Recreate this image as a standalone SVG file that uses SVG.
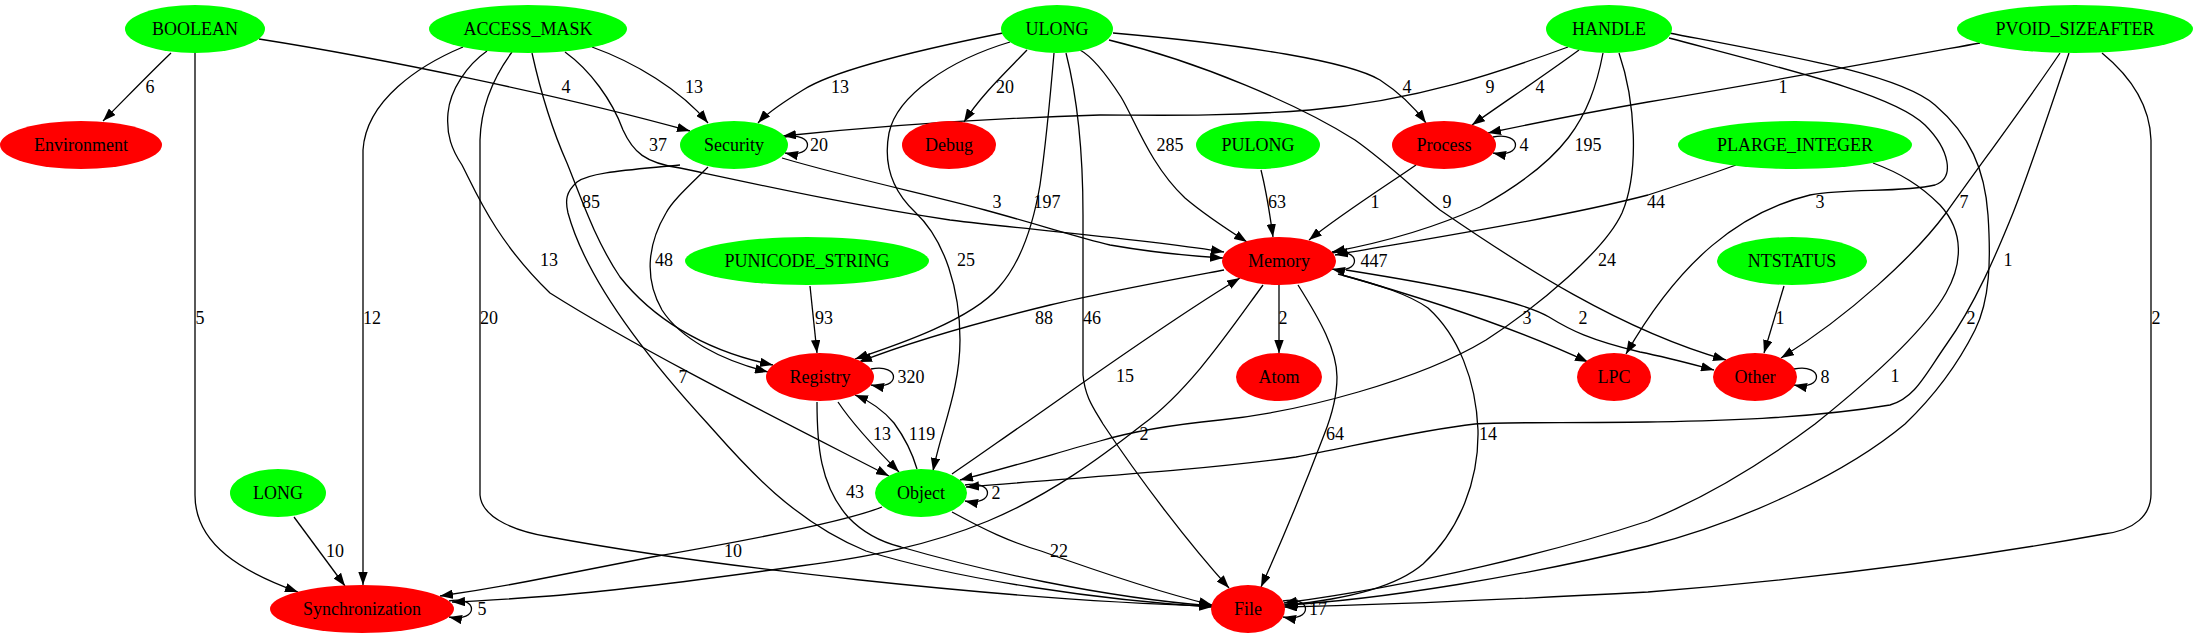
<svg xmlns="http://www.w3.org/2000/svg" width="2198" height="639" viewBox="0 0 2198 639">
<style>
.g{fill:#00ff00}
.r{fill:#ff0000}
text{font-family:"Liberation Serif","Times New Roman",serif;font-size:18px;fill:#000;text-anchor:middle}
.e path{fill:none;stroke:#000;stroke-width:1.3;marker-end:url(#ah)}
</style>
<defs>
<marker id="ah" viewBox="0 0 13 9.4" refX="13" refY="4.7" markerWidth="13" markerHeight="9.4" markerUnits="userSpaceOnUse" orient="auto"><path d="M0,0 L13,4.7 L0,9.4 z" fill="#000"/></marker>
</defs>
<rect width="2198" height="639" fill="#fff"/>
<g id="connectors" class="e">
<path d="M171,53 C147,76 126,98 103,121"/><text x="150" y="93">6</text>
<path d="M259,39 C380,58 560,95 690,131"/><text x="566" y="93">4</text>
<path d="M195,53 L195,495 C195,545 243,572 298,592"/><text x="200" y="324">5</text>
<path d="M592,47 C634,62 681,90 708,123"/><text x="694" y="93">13</text>
<path d="M565,52 C590,70 612,100 623,130 C633,152 645,163 680,168 C760,185 850,205 950,220 C1050,232 1150,240 1224,252"/><text x="658" y="151">37</text>
<path d="M532,53 C538,80 550,125 567,163 C580,195 595,240 620,277 C650,315 700,350 773,365"/><text x="591" y="208">85</text>
<path d="M487,51 C467,65 450,90 448,113 C446,135 452,150 462,165 C475,190 495,240 550,293 C640,350 780,420 889,476"/><text x="549" y="266">13</text>
<path d="M463,47 C420,65 366,100 363,150 L363,585"/><text x="372" y="324">12</text>
<path d="M512,52 C495,75 481,105 480,140 L480,495 C482,520 520,532 550,537 C700,565 1000,600 1212,606"/><text x="489" y="324">20</text>
<path d="M1003,33 C918,50 834,70 803,90 C782,103 766,114 758,123"/><text x="840" y="93">13</text>
<path d="M1027,50 C1008,70 981,95 964,122"/><text x="1005" y="93">20</text>
<path d="M1010,42 C950,60 897,95 889,133 C882,170 897,195 915,212 C945,240 960,290 960,340 C960,390 941,430 933,471"/><text x="966" y="266">25</text>
<path d="M1054,53 C1050,100 1045,150 1040,185 C1034,220 1023,260 999,287 C971,320 897,345 855,359"/><text x="1047" y="208">197</text>
<path d="M1066,53 C1078,100 1083,150 1083,215 L1083,375 C1085,398 1095,410 1103,424 C1140,480 1190,545 1229,588"/><text x="1092" y="324">46</text>
<path d="M1080,50 C1095,58 1110,80 1121,97 C1135,120 1150,165 1185,198 C1205,215 1225,228 1247,242"/><text x="1170" y="151">285</text>
<path d="M1113,33 C1250,45 1350,62 1380,80 C1400,93 1415,108 1426,123"/><text x="1407" y="93">4</text>
<path d="M1109,40 C1200,62 1300,105 1355,140 C1390,165 1415,190 1440,210 C1520,265 1620,330 1726,360"/><text x="1447" y="208">9</text>
<path d="M1568,47 C1500,72 1420,100 1310,110 C1220,117 1150,115 1100,115 C1000,118 880,126 783,136"/><text x="1490" y="93">9</text>
<path d="M1579,50 C1545,75 1500,105 1472,125"/><text x="1540" y="93">4</text>
<path d="M1603,53 C1590,120 1565,160 1480,207 C1430,230 1380,243 1332,252"/><text x="1588" y="151">195</text>
<path d="M1619,53 C1635,100 1640,170 1622,213 C1605,250 1540,305 1486,340 C1420,380 1300,412 1220,420 C1160,426 1120,435 1100,441 C1050,455 1000,470 960,480"/><text x="1607" y="266">24</text>
<path d="M1669,38 C1790,70 1895,95 1925,125 C1950,150 1955,178 1935,185 C1900,193 1850,188 1810,195 C1740,212 1680,260 1626,354"/><text x="1820" y="208">3</text>
<path d="M1669,33 C1800,58 1900,75 1935,105 C1970,135 1985,170 1988,215 C1991,260 1990,300 1975,330 C1955,370 1930,400 1905,424 C1850,470 1750,520 1648,546 C1530,575 1380,600 1284,605"/><text x="1971" y="324">2</text>
<path d="M1980,43 C1870,63 1750,85 1648,102 C1590,112 1540,122 1488,133"/><text x="1783" y="93">1</text>
<path d="M2060,53 C2025,105 1980,165 1946,213 C1915,255 1850,315 1781,358"/><text x="1964" y="208">7</text>
<path d="M2069,53 C2050,110 2030,170 2013,213 C1998,250 1975,305 1946,345 C1925,375 1915,398 1890,405 C1800,420 1700,421 1648,422 C1560,423 1500,422 1475,424 C1420,430 1350,447 1296,457 C1200,470 1100,476 966,487"/><text x="2008" y="266">1</text>
<path d="M2102,53 C2135,80 2150,110 2151,140 L2151,494 C2151,515 2135,530 2104,534 C1960,560 1800,580 1648,592 C1500,600 1380,605 1284,607"/><text x="2156" y="324">2</text>
<path d="M1736,165 C1700,178 1670,188 1648,195 C1560,218 1420,240 1335,255"/><text x="1656" y="208">44</text>
<path d="M1873,163 C1900,173 1920,185 1940,205 C1965,232 1962,265 1946,293 C1925,330 1870,380 1815,424 C1760,465 1700,500 1648,521 C1560,550 1420,585 1284,603"/><text x="1895" y="382">1</text>
<path d="M1261,170 C1266,190 1270,215 1273,237"/><text x="1277" y="208">63</text>
<path d="M1416,165 C1390,183 1340,215 1309,240"/><text x="1375" y="208">1</text>
<path d="M810,286 L817,353"/><text x="824" y="324">93</text>
<path d="M1784,286 L1764,353"/><text x="1780" y="324">1</text>
<path d="M294,517 L345,586"/><text x="335" y="557">10</text>
<path d="M782,158 C850,178 930,195 985,210 C1040,225 1080,238 1110,245 C1150,252 1190,256 1223,258"/><text x="997" y="208">3</text>
<path d="M708,167 C690,185 673,200 666,213 C650,240 642,275 662,310 C680,338 720,360 768,372"/><text x="664" y="266">48</text>
<path d="M680,165 C630,170 590,172 577,182 C566,192 565,200 568,213 C585,275 640,350 708,424 C740,460 790,520 866,551 C960,580 1100,600 1212,607"/><text x="683" y="383">7</text>
<path d="M1224,270 C1160,282 1100,293 1050,305 C980,322 910,342 859,362"/><text x="1044" y="324">88</text>
<path d="M1279,285 L1279,353"/><text x="1283" y="324">2</text>
<path d="M1342,275 C1430,300 1520,330 1588,362"/><text x="1527" y="324">3</text>
<path d="M1346,270 C1440,285 1520,300 1549,317 C1570,330 1590,340 1640,352 C1670,358 1695,365 1714,370"/><text x="1583" y="324">2</text>
<path d="M1298,285 C1320,320 1337,350 1337,377 C1337,400 1330,420 1324,435 C1305,485 1280,545 1261,587"/><text x="1335" y="440">64</text>
<path d="M1263,285 C1230,330 1190,390 1142,425 C1100,458 1050,495 988,521 C930,545 870,557 800,566 C700,580 600,592 550,596 C510,599 480,601 452,602"/><text x="1144" y="440">2</text>
<path d="M838,402 C850,420 875,448 899,472"/><text x="882" y="440">13</text>
<path d="M917,469 C912,452 905,438 894,423 C883,410 870,401 855,395"/><text x="922" y="440">119</text>
<path d="M817,402 C817,445 820,485 848,517 C865,535 885,543 901,547 C980,570 1100,597 1212,606"/><text x="855" y="498">43</text>
<path d="M952,474 C980,455 1005,437 1024,424 C1080,385 1170,320 1240,278"/><text x="1125" y="382">15</text>
<path d="M882,507 C850,520 750,540 652,557 C610,565 580,571 550,577 C510,585 475,591 440,596"/><text x="733" y="557">10</text>
<path d="M952,512 C985,530 1010,542 1041,551 C1080,565 1150,590 1212,605"/><text x="1059" y="557">22</text>
<path d="M1338,274 C1380,285 1410,295 1428,308 C1458,335 1476,380 1478,430 C1479,480 1460,530 1423,564 C1395,588 1340,600 1285,605"/><text x="1488" y="440">14</text>
<path d="M785,137 C815,131 815,159 785,153"/><text x="819" y="151">20</text>
<path d="M1493,137 C1523,131 1523,159 1493,153"/><text x="1524" y="151">4</text>
<path d="M1332,253 C1362,247 1362,275 1332,269"/><text x="1374" y="267">447</text>
<path d="M871,369 C901,363 901,391 871,385"/><text x="911" y="383">320</text>
<path d="M1794,369 C1824,363 1824,391 1794,385"/><text x="1825" y="383">8</text>
<path d="M965,485 C995,479 995,507 965,501"/><text x="996" y="499">2</text>
<path d="M1283,601 C1313,595 1313,623 1283,617"/><text x="1318" y="615">17</text>
<path d="M449,601 C479,595 479,623 449,617"/><text x="482" y="615">5</text>
</g>
<g id="BOOLEAN"><ellipse class="g" cx="195" cy="29" rx="70" ry="24"/><text x="195" y="35">BOOLEAN</text></g>
<g id="ACCESS_MASK"><ellipse class="g" cx="528" cy="29" rx="99" ry="24"/><text x="528" y="35">ACCESS_MASK</text></g>
<g id="ULONG"><ellipse class="g" cx="1057" cy="29" rx="56" ry="24"/><text x="1057" y="35">ULONG</text></g>
<g id="HANDLE"><ellipse class="g" cx="1609" cy="29" rx="63" ry="24"/><text x="1609" y="35">HANDLE</text></g>
<g id="PVOID_SIZEAFTER"><ellipse class="g" cx="2075" cy="29" rx="118" ry="24"/><text x="2075" y="35">PVOID_SIZEAFTER</text></g>
<g id="Environment"><ellipse class="r" cx="81" cy="145" rx="81" ry="24"/><text x="81" y="151">Environment</text></g>
<g id="Security"><ellipse class="g" cx="734" cy="145" rx="54" ry="24"/><text x="734" y="151">Security</text></g>
<g id="Debug"><ellipse class="r" cx="949" cy="145" rx="47" ry="24"/><text x="949" y="151">Debug</text></g>
<g id="PULONG"><ellipse class="g" cx="1258" cy="145" rx="62" ry="24"/><text x="1258" y="151">PULONG</text></g>
<g id="Process"><ellipse class="r" cx="1444" cy="145" rx="52" ry="24"/><text x="1444" y="151">Process</text></g>
<g id="PLARGE_INTEGER"><ellipse class="g" cx="1795" cy="145" rx="117" ry="24"/><text x="1795" y="151">PLARGE_INTEGER</text></g>
<g id="PUNICODE_STRING"><ellipse class="g" cx="807" cy="261" rx="122" ry="24"/><text x="807" y="267">PUNICODE_STRING</text></g>
<g id="Memory"><ellipse class="r" cx="1279" cy="261" rx="57" ry="24"/><text x="1279" y="267">Memory</text></g>
<g id="NTSTATUS"><ellipse class="g" cx="1792" cy="261" rx="75" ry="24"/><text x="1792" y="267">NTSTATUS</text></g>
<g id="Registry"><ellipse class="r" cx="820" cy="377" rx="54" ry="24"/><text x="820" y="383">Registry</text></g>
<g id="Atom"><ellipse class="r" cx="1279" cy="377" rx="43" ry="24"/><text x="1279" y="383">Atom</text></g>
<g id="LPC"><ellipse class="r" cx="1614" cy="377" rx="37" ry="24"/><text x="1614" y="383">LPC</text></g>
<g id="Other"><ellipse class="r" cx="1755" cy="377" rx="42" ry="24"/><text x="1755" y="383">Other</text></g>
<g id="LONG"><ellipse class="g" cx="278" cy="493" rx="48" ry="24"/><text x="278" y="499">LONG</text></g>
<g id="Object"><ellipse class="g" cx="921" cy="493" rx="46" ry="24"/><text x="921" y="499">Object</text></g>
<g id="Synchronization"><ellipse class="r" cx="362" cy="609" rx="92" ry="24"/><text x="362" y="615">Synchronization</text></g>
<g id="File"><ellipse class="r" cx="1248" cy="609" rx="37" ry="24"/><text x="1248" y="615">File</text></g>
</svg>
